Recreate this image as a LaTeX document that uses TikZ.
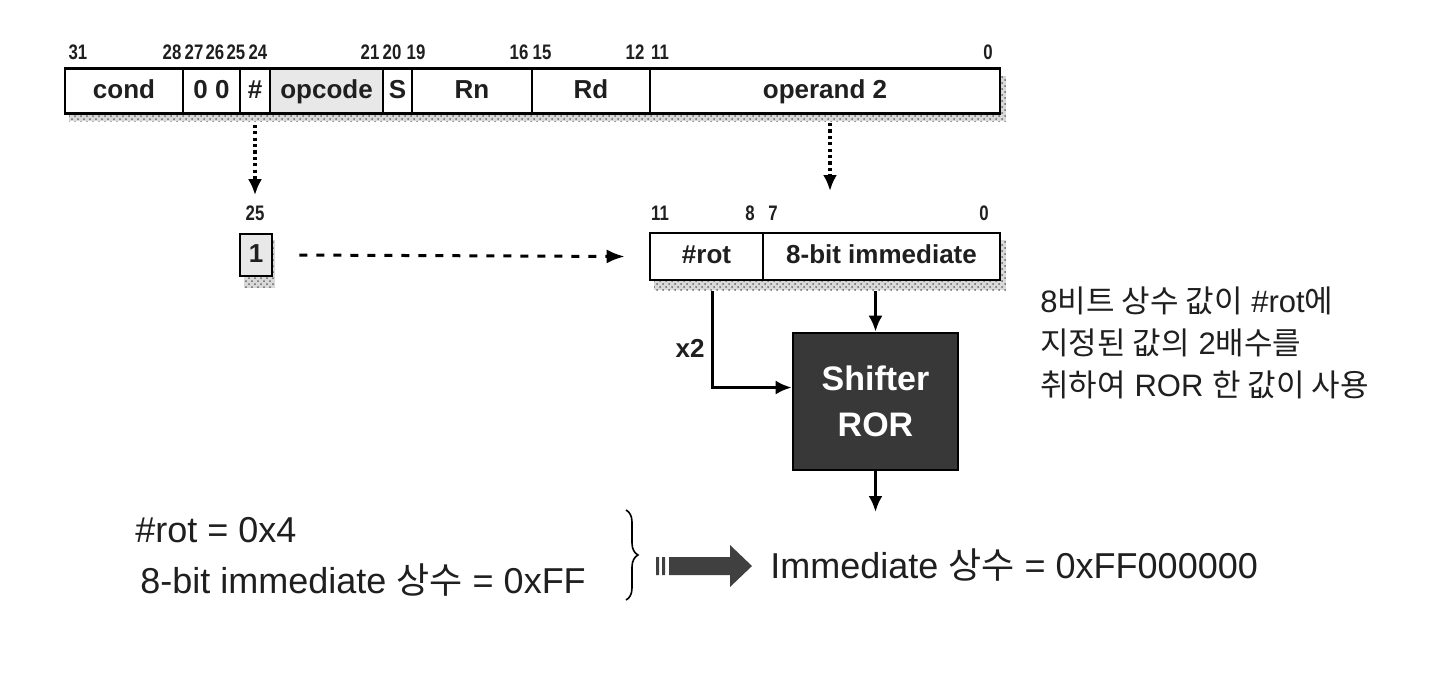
\documentclass[tikz,border=0pt]{standalone}
\usepackage{fontspec}
\setmainfont{Liberation Sans}
\newfontfamily\narrow[FakeStretch=0.8]{Liberation Sans}
\newfontfamily\kr{Noto Sans CJK KR}
\usetikzlibrary{arrows.meta,patterns,decorations.pathreplacing}
\begin{document}
\begin{tikzpicture}[x=0.5pt, y=-0.5pt, every node/.style={font=\bfseries\fontsize{13}{15}\selectfont, text=black!88},
  field/.style={draw, line width=1.3pt, inner sep=0pt, minimum height=22.5pt, fill=white, text height=9.5pt, text depth=2.5pt},
  bitnum/.style={font=\narrow\bfseries\fontsize{10.5}{11}\selectfont, inner sep=0pt},
  shade/.style={pattern=crosshatch dots, pattern color=black!60, preaction={fill=gray!30}},
  note/.style={font=\fontsize{15.5}{21}\selectfont, inner sep=0pt, anchor=west, align=left},
  bignote/.style={note, font=\fontsize{18}{21}\selectfont},
  dotarrow/.style={line width=1.6pt, dash pattern=on 1.6pt off 1.6pt, -{Latex[length=8pt,width=7pt]}},
  dasharrow/.style={line width=1.5pt, dash pattern=on 4pt off 4.5pt, -{Latex[length=9pt,width=7pt]}},
  solidarrow/.style={line width=1.6pt, -{Latex[length=8pt,width=7pt]}}]
\fill[white] (0,0) rectangle (1440,677);
\useasboundingbox (0,0) rectangle (1440,677);
% instruction format
\fill[shade] (69,76) rectangle (1006,121);
\foreach \l/\r/\t/\n/\c in {65/183/cond/cond/white, 183/240/0 0/zero/white, 240/270/\#/hash/white,
  270/383/opcode/opc/gray!18, 383/412/S/sbit/white, 412/532/Rn/rn/white, 532/650/Rd/rd/white,
  650/1000/operand 2/optwo/white}
  \node[field, fill=\c, minimum width={(\r-\l)*0.5pt}] (\n) at ({(\l+\r)/2},91) {\t};
\foreach \x/\b in {78/31, 172/28, 194/27, 215/26, 236/25, 258/24, 370/21, 392/20, 416/19,
  519/16, 542/15, 635/12, 660/11, 988/0}
  \node[bitnum] (top\b) at (\x,52) {\b};
% immediate bit and operand 2
\node[bitnum] (low25) at (255,213) {25};
\fill[shade] (244,240) rectangle (275,288);
\node[field, fill=gray!18, minimum width=16pt, minimum height=21pt] (one) at (256,255) {1};
\fill[shade] (654,240) rectangle (1006,290);
\node[field, minimum width=56.5pt, minimum height=23.5pt] (rot) at (706.5,256.5) {\#rot};
\node[field, minimum width=118.5pt, minimum height=23.5pt] (eight) at (881.5,256.5) {8-bit immediate};
\foreach \x/\b in {660/11, 750/8, 773/7, 984/0}
  \node[bitnum] (low\b) at (\x,213) {\b};
\coordinate (optap) at (830,123);
\coordinate (imtop) at (830,191);
\draw[dotarrow] ([yshift=-5pt]hash.south) -- ([yshift=5pt]low25.north);
\draw[dotarrow] (optap) -- (imtop);
\draw[dasharrow] ([xshift=13pt]one.east) -- ([xshift=-12pt]rot.west);
% shifter
\node[draw, line width=1.3pt, fill=black!78, text=white, font=\bfseries\fontsize{17}{23}\selectfont,
  minimum width=82.5pt, minimum height=68.5pt, align=center] (shifter) at (875.5,401.5) {Shifter\\ROR};
\draw[solidarrow] ([yshift=-5pt]eight.south -| shifter.north) -- (shifter.north);
\draw[solidarrow] ([xshift=3pt,yshift=-5pt]rot.south) |- ([yshift=7pt]shifter.west);
\node[anchor=east, inner sep=1pt] (xtwo) at (707,348) {x2};
\coordinate (outend) at (875.5,512);
\draw[solidarrow] (shifter.south) -- (outend);
\node[note] (explain) at (1040,343) {8{\kr 비트 상수 값이} \#rot{\kr 에}\\{\kr 지정된 값의} 2{\kr 배수를}\\{\kr 취하여} ROR {\kr 한 값이 사용}};
% example values
\node[bignote] (rotval) at (135,530) {\#rot = 0x4};
\node[bignote] (immval) at (140,580) {8-bit immediate {\kr 상수} = 0xFF};
\coordinate (bracetop) at (626,510);
\coordinate (bracebot) at (626,600);
\draw[decorate, decoration={brace, amplitude=6pt}, line width=0.8pt] (bracetop) -- (bracebot);
\fill[black!75] (656,557) rectangle (659,575) (662,557) rectangle (665,575);
\fill[black!75] (669,557) -- (730,557) -- (730,545) -- (752,566) -- (730,587) -- (730,575) -- (669,575) -- cycle;
\node[bignote] (result) at (770,565) {Immediate {\kr 상수} = 0xFF000000};
\end{tikzpicture}
\end{document}
